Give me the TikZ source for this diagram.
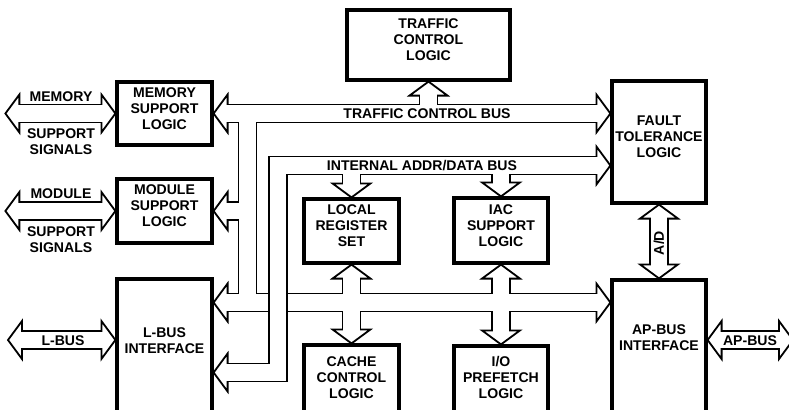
\documentclass[tikz,border=0pt]{standalone}
\usepackage{fontspec}
\setmainfont{Liberation Sans}
\usetikzlibrary{calc, fit}

\tikzset{
    openhead/.pic={\draw[fill=white, line width=0.045cm, line join=miter] (0,0) -- (-14,-19) -- (-14,19) -- cycle;}
}

\begin{document}
\begin{tikzpicture}[
    x=0.025cm, y=-0.025cm,
    blk/.style={draw, line width=0.08cm, inner sep=0pt, font=\fontsize{10}{11.4}\selectfont\bfseries, align=center},
    lbl/.style={font=\fontsize{10}{11.4}\selectfont\bfseries, align=center, inner sep=0pt},
    busout/.style={line width=0.495cm, line join=miter},
    busin/.style={line width=0.405cm, white, line join=miter}
]
    \path[use as bounding box, clip] (0,0) rectangle (789,409);

    % blocks
    \node[blk, fit={(347,10) (510,80)}] (tcl) {TRAFFIC\\CONTROL\\LOGIC};
    \node[blk, fit={(117,82) (212,145)}] (mem) {MEMORY\\SUPPORT\\LOGIC};
    \node[blk, fit={(117,179) (212,243)}] (mod) {MODULE\\SUPPORT\\LOGIC};
    \node[blk, fit={(117,279) (212,430)}] (lbus) {};
    \node[blk, fit={(612,81) (706,203)}] (ftl) {FAULT\\TOLERANCE\\LOGIC};
    \node[blk, fit={(612,280) (706,430)}] (apbus) {};
    \node[blk, fit={(304,199) (399,263)}] (lrs) {LOCAL\\REGISTER\\SET};
    \node[blk, fit={(454,198) (548,263)}] (iac) {IAC\\SUPPORT\\LOGIC};
    \node[blk, fit={(304,345) (399,430)}] (ccl) {};
    \node[blk, fit={(454,346) (548,430)}] (iop) {};
    \node[lbl] (lbustxt) at (164.5,341) {L-BUS\\INTERFACE};
    \node[lbl] (apbustxt) at (659,338) {AP-BUS\\INTERFACE};
    \node[lbl] (ccltxt) at (351.5,378) {CACHE\\CONTROL\\LOGIC};
    \node[lbl] (ioptxt) at (501,377) {I/O\\PREFETCH\\LOGIC};

    % bus corners and outside ends
    \coordinate (ja) at (247.5,302.5);
    \coordinate (ib) at (278,165.5);
    \coordinate (jb) at (278,372.5);
    \coordinate (memsig) at ($(mem.west)+(-110,0)$);
    \coordinate (modsig) at ($(mod.west)+(-110,0)$);
    \coordinate (lbsig) at (8,340);
    \coordinate (apsig) at (793,340);

    \def\busA{
      ($(mem.east)+(12,0)$) -- ($(ftl.west|-mem.east)+(-12,0)$)
      ($(tcl.south)+(0,12)$) -- (tcl.south|-mem.east)
      (ja|-mem.east) -- (ja)
      (ja|-mod.east) -- ($(mod.east)+(12,0)$)
      ($(lbus.east|-ja)+(12,0)$) -- ($(apbus.west|-ja)+(-12,0)$)
      ($(lrs.south)+(0,12)$) -- ($(ccl.north)+(0,-12)$)
      ($(iac.south)+(0,12)$) -- ($(iop.north)+(0,-12)$)
    }
    \def\busB{
      ($(ftl.west|-ib)+(-12,0)$) -- (ib) -- (jb) -- ($(lbus.east|-jb)+(12,0)$)
      (lrs.north|-ib) -- ($(lrs.north)+(0,-12)$)
      (iac.north|-ib) -- ($(iac.north)+(0,-12)$)
    }
    \def\busX{
      ($(memsig)+(12,0)$) -- ($(mem.west)+(-12,0)$)
      ($(modsig)+(12,0)$) -- ($(mod.west)+(-12,0)$)
      ($(lbsig)+(12,0)$) -- ($(lbus.west|-lbsig)+(-12,0)$)
      ($(apbus.east|-apsig)+(12,0)$) -- ($(apsig)+(-12,0)$)
      ($(ftl.south)+(0,12)$) -- ($(apbus.north)+(0,-12)$)
    }

    % traffic control bus
    \draw[busout] \busA;
    \foreach \p/\r in {mem.east/180, ftl.west|-mem.east/0, tcl.south/90, mod.east/180,
                       lbus.east|-ja/180, apbus.west|-ja/0, lrs.south/90, ccl.north/-90,
                       iac.south/90, iop.north/-90}
      \pic[rotate=\r] at (\p) {openhead};
    \draw[busin] \busA;

    % internal addr/data bus
    \draw[busout] \busB;
    \foreach \p/\r in {ftl.west|-ib/0, lrs.north/-90, iac.north/-90, lbus.east|-jb/180}
      \pic[rotate=\r] at (\p) {openhead};
    \draw[busin] \busB;

    % outside signals
    \draw[busout] \busX;
    \foreach \p/\r in {memsig/180, mem.west/0, modsig/180, mod.west/0, lbsig/180,
                       lbus.west|-lbsig/0, apbus.east|-apsig/180, apsig/0,
                       ftl.south/90, apbus.north/-90}
      \pic[rotate=\r] at (\p) {openhead};
    \draw[busin] \busX;

    % labels
    \node[lbl] (memtop) at (61,97) {MEMORY};
    \node[lbl] (membot) at (61,141.5) {SUPPORT\\SIGNALS};
    \node[lbl] (modtop) at (61,194) {MODULE};
    \node[lbl] (modbot) at (61,240) {SUPPORT\\SIGNALS};
    \node[lbl] (lbtxt) at (63,340.5) {L-BUS};
    \node[lbl] (aptxt) at (750,341) {AP-BUS};
    \node[lbl] (tcbtxt) at (427,113.5) {TRAFFIC CONTROL BUS};
    \node[lbl] (iabtxt) at (422,166) {INTERNAL ADDR/DATA BUS};
    \node[lbl, rotate=90] (adtxt) at (659,243) {A/D};
\end{tikzpicture}
\end{document}
